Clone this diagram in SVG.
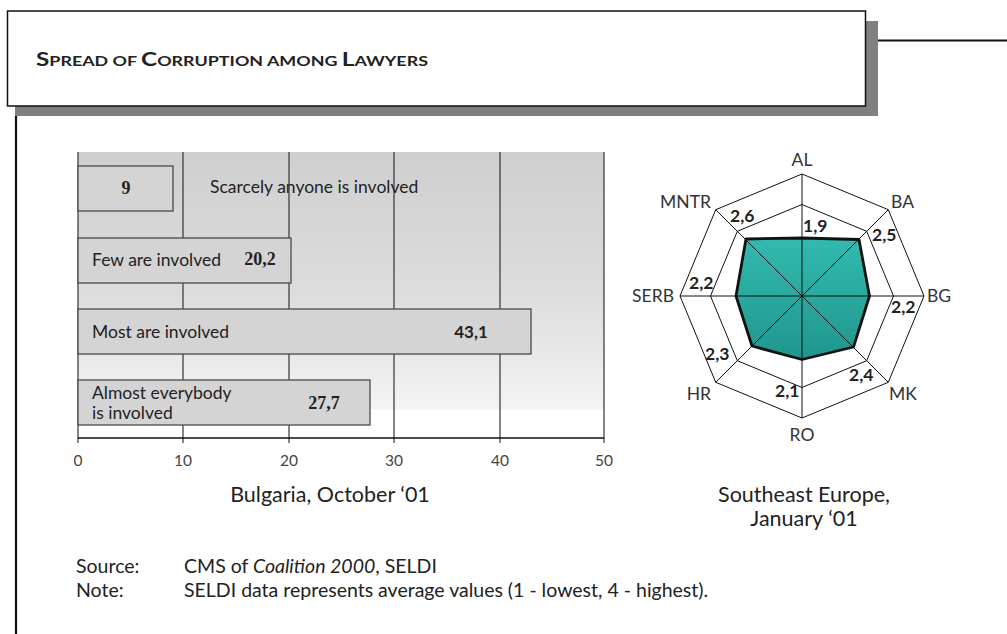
<svg xmlns="http://www.w3.org/2000/svg" width="1007" height="634" viewBox="0 0 1007 634">
<style>
  text { font-family: Lato, "Open Sans", "Liberation Sans", sans-serif; fill: #222; }
  .lbl { font-size: 17.5px; }
  .tick { font-size: 15.5px; fill: #444; text-anchor: middle; }
  .num { font-family: "Liberation Serif", serif; font-weight: bold; font-size: 18px; }
  .numS { font-weight: bold; font-size: 17px; }
  .rv { font-weight: bold; font-size: 17.5px; fill: #222; }
  .cty { font-size: 17.5px; fill: #333; }
  .cap { font-size: 21.5px; }
  .note { font-size: 19.5px; }
  .bar { fill: #d4d4d4; stroke: #4a4a4a; stroke-width: 1.3; }
  .grid { stroke: #333; stroke-width: 1.2; }
  .ring { fill: none; stroke: #111; stroke-width: 1; }
</style>
<defs>
  <linearGradient id="bg" x1="0" y1="0" x2="0" y2="1">
    <stop offset="0" stop-color="#cfcfcf"/>
    <stop offset="0.5" stop-color="#dddddd"/>
    <stop offset="0.9" stop-color="#f4f4f4"/>
    <stop offset="0.901" stop-color="#ffffff"/>
    <stop offset="1" stop-color="#ffffff"/>
  </linearGradient>
  <linearGradient id="teal" x1="0" y1="0" x2="0" y2="1">
    <stop offset="0" stop-color="#33bab0"/>
    <stop offset="1" stop-color="#1f968d"/>
  </linearGradient>
</defs>
<rect width="1007" height="634" fill="#ffffff"/>

<g id="title">
  <rect x="15" y="21" width="863" height="95" fill="#808080"/>
  <rect x="7.5" y="11" width="858" height="95" fill="#ffffff" stroke="#111" stroke-width="1.5"/>
  <line x1="878" y1="40.5" x2="1007" y2="40.5" stroke="#111" stroke-width="2.2"/>
  <line x1="16" y1="116" x2="16" y2="634" stroke="#111" stroke-width="2.2"/>
  <text x="36" y="66" font-weight="bold" font-size="14" fill="#111" textLength="392" lengthAdjust="spacingAndGlyphs"><tspan font-size="19">S</tspan>PREAD OF <tspan font-size="19">C</tspan>ORRUPTION AMONG <tspan font-size="19">L</tspan>AWYERS</text>
</g>

<g id="bar-chart">
  <rect x="78" y="152" width="526" height="286" fill="url(#bg)"/>
  <text class="lbl" x="210" y="193">Scarcely anyone is involved</text>
  <g id="gridlines">
    <line class="grid" x1="78" y1="152" x2="78" y2="443"/>
    <line class="grid" x1="183" y1="152" x2="183" y2="443"/>
    <line class="grid" x1="289" y1="152" x2="289" y2="443" stroke="#555"/>
    <line class="grid" x1="394" y1="152" x2="394" y2="443"/>
    <line class="grid" x1="500" y1="152" x2="500" y2="443" stroke="#555"/>
    <line class="grid" x1="604" y1="152" x2="604" y2="443"/>
    <line x1="78" y1="438" x2="604" y2="438" stroke="#111" stroke-width="1.3"/>
  </g>
  <g id="bar-9">
    <rect class="bar" x="78" y="166" width="95" height="45"/>
    <text class="num" x="126" y="194" text-anchor="middle">9</text>
  </g>
  <g id="bar-20">
    <rect class="bar" x="78" y="238" width="213" height="45"/>
    <text class="lbl" x="92" y="266">Few are involved</text>
    <text class="num" x="260" y="265" text-anchor="middle">20,2</text>
  </g>
  <g id="bar-43">
    <rect class="bar" x="78" y="309" width="453" height="45"/>
    <text class="lbl" x="92" y="338">Most are involved</text>
    <text class="numS" x="471" y="338" text-anchor="middle">43,1</text>
  </g>
  <g id="bar-27">
    <rect class="bar" x="78" y="380" width="292" height="45"/>
    <text class="lbl" x="92" y="399">Almost everybody</text>
    <text class="lbl" x="92" y="419">is involved</text>
    <text class="num" x="324" y="409" text-anchor="middle">27,7</text>
  </g>
  <g id="ticks">
    <text class="tick" x="78" y="466">0</text>
    <text class="tick" x="183" y="466">10</text>
    <text class="tick" x="289" y="466">20</text>
    <text class="tick" x="394" y="466">30</text>
    <text class="tick" x="500" y="466">40</text>
    <text class="tick" x="604" y="466">50</text>
  </g>
  <text class="cap" x="330" y="502" text-anchor="middle">Bulgaria, October ‘01</text>
</g>

<g id="radar">
  <polygon class="ring" points="802,174 888.3,209.7 924,296 888.3,382.3 802,418 715.7,382.3 680,296 715.7,209.7"/>
  <polygon class="ring" points="802,204.5 866.7,231.3 893.5,296 866.7,360.7 802,387.5 737.3,360.7 710.5,296 737.3,231.3"/>
  <polygon points="802,238 859,239.5 869.5,296 853.5,347 802,359.5 752,346 736,296 746,239" fill="url(#teal)"/>
  <g id="spokes" stroke="#111" stroke-width="1">
    <line x1="802" y1="296" x2="802" y2="174"/>
    <line x1="802" y1="296" x2="888.3" y2="209.7"/>
    <line x1="802" y1="296" x2="924" y2="296"/>
    <line x1="802" y1="296" x2="888.3" y2="382.3"/>
    <line x1="802" y1="296" x2="802" y2="418"/>
    <line x1="802" y1="296" x2="715.7" y2="382.3"/>
    <line x1="802" y1="296" x2="680" y2="296"/>
    <line x1="802" y1="296" x2="715.7" y2="209.7"/>
  </g>
  <polygon points="802,238 859,239.5 869.5,296 853.5,347 802,359.5 752,346 736,296 746,239" fill="none" stroke="#111" stroke-width="2.8" stroke-linejoin="round"/>
  <g id="country-labels">
    <text class="cty" x="802" y="166" text-anchor="middle">AL</text>
    <text class="cty" x="891" y="208">BA</text>
    <text class="cty" x="927" y="302">BG</text>
    <text class="cty" x="889" y="400">MK</text>
    <text class="cty" x="802" y="441" text-anchor="middle">RO</text>
    <text class="cty" x="711" y="400" text-anchor="end">HR</text>
    <text class="cty" x="674" y="302" text-anchor="end">SERB</text>
    <text class="cty" x="711" y="208" text-anchor="end">MNTR</text>
  </g>
  <g id="values">
    <text class="rv" x="803" y="232">1,9</text>
    <text class="rv" x="872" y="241">2,5</text>
    <text class="rv" x="891" y="313">2,2</text>
    <text class="rv" x="849" y="381">2,4</text>
    <text class="rv" x="775" y="397">2,1</text>
    <text class="rv" x="705" y="360">2,3</text>
    <text class="rv" x="689" y="289">2,2</text>
    <text class="rv" x="730" y="222">2,6</text>
  </g>
  <text class="cap" x="804" y="502" text-anchor="middle">Southeast Europe,</text>
  <text class="cap" x="804" y="526" text-anchor="middle">January ‘01</text>
</g>

<g id="notes">
  <text class="note" x="76" y="573">Source:</text>
  <text class="note" x="184" y="573">CMS of <tspan font-style="italic">Coalition 2000</tspan>, SELDI</text>
  <text class="note" x="76" y="597">Note:</text>
  <text class="note" x="184" y="597">SELDI data represents average values (1 - lowest, 4 - highest).</text>
</g>
</svg>
